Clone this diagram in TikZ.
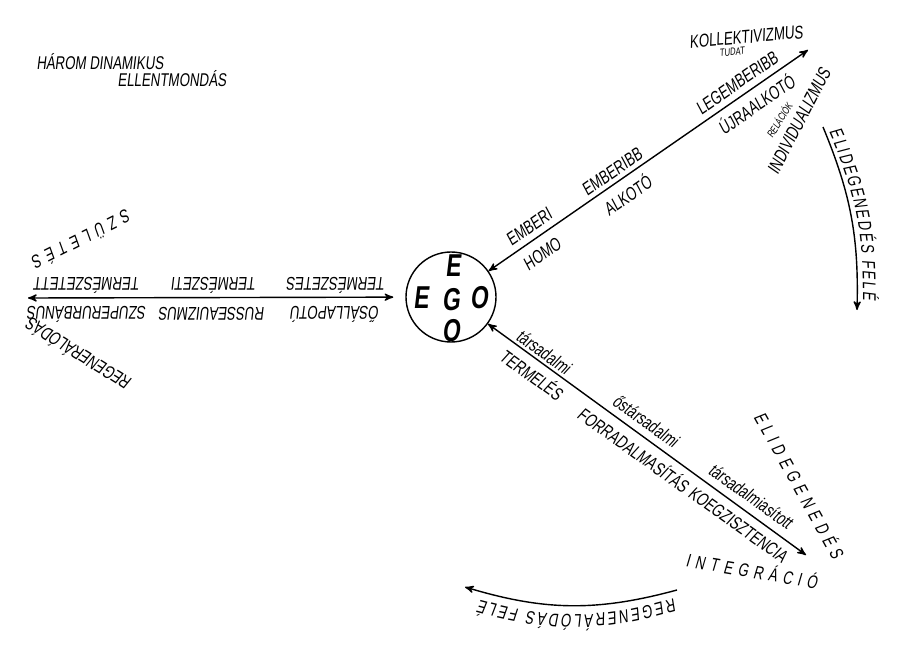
\documentclass[tikz,border=0pt]{standalone}
\usepackage{fontspec}
\newfontfamily\hand[FakeStretch=0.72,FakeSlant=0.12]{Liberation Sans}
\newfontfamily\spacedhand[FakeStretch=0.72,FakeSlant=0.12,LetterSpace=30]{Liberation Sans}
\usetikzlibrary{arrows,decorations.text}

\tikzset{
  word/.style={font=\hand\fontsize{10.5}{11}\selectfont,inner sep=1pt},
  small word/.style={font=\hand\fontsize{6}{7}\selectfont,inner sep=1pt},
  spaced word/.style={font=\spacedhand\fontsize{10.5}{11}\selectfont,inner sep=1pt},
  ego letter/.style={font=\hand\bfseries\fontsize{18}{18}\selectfont,inner sep=0pt},
  line/.style={draw=black,line width=0.8pt},
}

\begin{document}
\begin{tikzpicture}[x=0.2mm,y=-0.2mm,>=stealth']
        \useasboundingbox[fill=white] (0,0) rectangle (900,649);

        \node[word] (TitleA) at (100,62) {HÁROM DINAMIKUS};
        \node[word] (TitleB) at (172,79) {ELLENTMONDÁS};

        \node[draw,circle,line width=0.8pt,minimum size=18mm,inner sep=0pt] (EGO) at (451,297) {};
        \node[ego letter] (EgoTop) at (453,266) {E};
        \node[ego letter] (EgoLeft) at (421,298) {E};
        \node[ego letter] (EgoMid) at (451,300) {G};
        \node[ego letter] (EgoRight) at (479,298) {O};
        \node[ego letter] (EgoBottom) at (451,331) {O};

        \coordinate (WestEnd) at (28,298);
        \coordinate (NorthEnd) at (808,50);
        \coordinate (SouthEnd) at (806,555);

        % west
        \node[word,rotate=180] (WestAboveA) at (336,285) {TERMÉSZETES};
        \node[word,rotate=180] (WestAboveB) at (214,285) {TERMÉSZETI};
        \node[word,rotate=180] (WestAboveC) at (87,285) {TERMÉSZETETT};
        \node[word,rotate=180] (WestBelowA) at (335,314) {ŐSÁLLAPOTÚ};
        \node[word,rotate=180] (WestBelowB) at (212,314) {RUSSEAUIZMUS};
        \node[word,rotate=180] (WestBelowC) at (87,314) {SZUPERURBÁNUS};
        \node[spaced word,rotate=206.8] (Szuletes) at (82,240) {SZÜLETÉS};
        \node[word,rotate=148] (RegenWest) at (78,355) {REGENERÁLÓDÁS};

        % north-east
        \node[word,rotate=34.9] (Emberi) at (529,227) {EMBERI};
        \node[word,rotate=34.9] (Emberibb) at (612,172) {EMBERIBB};
        \node[word,rotate=34.9] (Legemberibb) at (737,83) {LEGEMBERIBB};
        \node[word,rotate=34.9] (Homo) at (542,254) {HOMO};
        \node[word,rotate=34.9] (Alkoto) at (627,195) {ALKOTÓ};
        \node[word,rotate=34.9] (Ujraalkoto) at (756,104) {ÚJRAALKOTÓ};
        \node[word,rotate=5] (Kollektiv) at (746,37) {KOLLEKTIVIZMUS};
        \node[small word,rotate=5] (Tudat) at (732,52) {TUDAT};
        \node[word,rotate=62.5] (Individ) at (799,121) {INDIVIDUALIZMUS};
        \node[small word,rotate=58] (Relaciok) at (779,120) {RELÁCIÓK};

        % south-east
        \node[word,rotate=-35.5] (TarsA) at (544,352) {társadalmi};
        \node[word,rotate=-35.5] (TarsB) at (646,421) {őstársadalmi};
        \node[word,rotate=-35.5] (TarsC) at (751,496) {társadalmiasított};
        \node[word,rotate=-35.5] (Termeles) at (532,374) {TERMELÉS};
        \node[word,rotate=-35.5] (Forradalom) at (634,449) {FORRADALMASÍTÁS};
        \node[word,rotate=-35.5] (Koegz) at (738,525) {KOEGZISZTENCIA};
        \node[spaced word,rotate=-9.5] (Integracio) at (752,570) {INTEGRÁCIÓ};
        \node[spaced word,rotate=-61] (Elidegen) at (800,485) {ELIDEGENEDÉS};

        \draw[<->,line,shorten <=2.4mm] (EGO) to (WestEnd);
        \draw[<->,line] (EGO) to (NorthEnd);
        \draw[<->,line] (EGO) to (SouthEnd);

        % arcs
        \coordinate (EastArcTop) at (823,127);
        \coordinate (EastArcBottom) at (857,310);
        \coordinate (EastTextTop) at (829,132);
        \coordinate (EastTextBottom) at (863,300);
        \coordinate (SouthArcRight) at (677,590);
        \coordinate (SouthArcLeft) at (465,587);
        \coordinate (SouthTextRight) at (674,598);
        \coordinate (SouthTextLeft) at (480,600);

        \draw[->,line] (EastArcTop) to[bend left=12] (EastArcBottom);
        \path[decorate,decoration={text along path,text align=fit to path,
            text={|\hand\fontsize{10.5}{11}\selectfont|ELIDEGENEDÉS FELÉ}}]
            (EastTextTop) to[bend left=12] (EastTextBottom);

        \draw[->,line] (SouthArcRight) to[bend left=16] (SouthArcLeft);
        \path[decorate,decoration={text along path,text align=fit to path,
            text={|\hand\fontsize{10.5}{11}\selectfont|REGENERÁLÓDÁS FELÉ}}]
            (SouthTextRight) to[bend left=16] (SouthTextLeft);
\end{tikzpicture}
\end{document}
